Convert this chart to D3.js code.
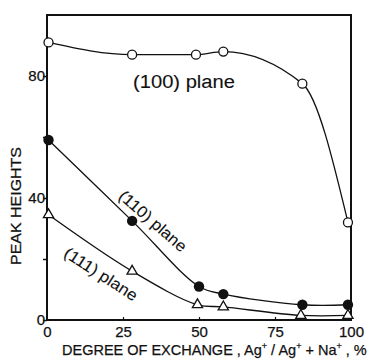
<!DOCTYPE html>
<html><head><meta charset="utf-8">
<script src="https://cdn.jsdelivr.net/npm/d3@7"></script>
<style>
html,body{margin:0;padding:0;background:#fff;}
svg{display:block;}
text{font-family:"Liberation Sans",Arial,sans-serif;fill:#111;stroke:#111;stroke-width:0.25px;}
</style></head>
<body>
<svg id="c" width="373" height="363"></svg>
<script>
// ---- data ----
const xPlane100 = [0.5, 28, 49, 58, 84, 99];
const yPlane100 = [91, 87, 87, 88, 77.5, 32];
const xPlane110 = [0.5, 28, 50, 58, 84, 99];
const yPlane110 = [59, 32.5, 11, 8.5, 5, 5];
const xPlane111 = [0.5, 28, 49.5, 58, 83.5, 99];
const yPlane111 = [34.5, 16, 5, 4.3, 1.5, 1.5];
const xTicks = [0, 25, 50, 75, 100];
const yTicksLabeled = [0, 40, 80];
const yTicksAll = [0, 20, 40, 60, 80];
const seriesLabels = ["(100) plane", "(110) plane", "(111) plane"];
const xTitleParts = ["DEGREE OF EXCHANGE , Ag", "+", " / Ag", "+", " + Na", "+", " , %"];
const yTitle = "PEAK HEIGHTS";

const svg = d3.select("#c");
const L = 47, R = 351, T = 15, B = 320;
const x = d3.scaleLinear().domain([0, 100]).range([L, R]);
const y = d3.scaleLinear().domain([0, 100]).range([B, T]);

// frame
svg.append("rect").attr("x", L).attr("y", T).attr("width", R - L).attr("height", B - T)
  .attr("fill", "none").attr("stroke", "#111").attr("stroke-width", 2);

// y axis
const yAxis = d3.axisLeft(y).tickValues(yTicksAll).tickSize(4)
  .tickFormat(d => yTicksLabeled.includes(d) ? d : "");
const gy = svg.append("g").attr("transform", `translate(${L},0)`).call(yAxis);
gy.select(".domain").remove();
gy.selectAll("line").attr("stroke", "#111").attr("stroke-width", 1.5);
gy.selectAll("text").attr("x", -2).style("font-size", "15px").style("font-family", "Liberation Sans, Arial, sans-serif").attr("fill", "#111");

// x axis
const xAxis = d3.axisBottom(x).tickValues(xTicks).tickSize(-3).tickFormat(d => d);
const gx = svg.append("g").attr("transform", `translate(0,${B})`).call(xAxis);
gx.select(".domain").remove();
gx.selectAll("line").attr("stroke", "#111").attr("stroke-width", 1.2)
  .filter(d => d === 0 || d === 100).remove();
gx.selectAll("text").attr("y", 6).style("font-size", "15px").style("font-family", "Liberation Sans, Arial, sans-serif").attr("fill", "#111");

// curves
const lineMono = d3.line().x(d => x(d[0])).y(d => y(d[1])).curve(d3.curveMonotoneX);
const lineCR = d3.line().x(d => x(d[0])).y(d => y(d[1])).curve(d3.curveCatmullRom.alpha(0.5));
function pts(xs, ys) { return xs.map((v, i) => [v, ys[i]]); }
const s100 = pts(xPlane100, yPlane100), s110 = pts(xPlane110, yPlane110), s111 = pts(xPlane111, yPlane111);
svg.append("path").attr("d", lineMono(s100)).attr("fill", "none").attr("stroke", "#111").attr("stroke-width", 1.3);
[s110, s111].forEach(s => {
  svg.append("path").attr("d", lineCR(s)).attr("fill", "none").attr("stroke", "#111").attr("stroke-width", 1.3);
});

// markers
svg.selectAll("circle.o").data(s100).enter().append("circle")
  .attr("cx", d => x(d[0])).attr("cy", d => y(d[1])).attr("r", 4.5)
  .attr("fill", "#fff").attr("stroke", "#111").attr("stroke-width", 1.3);
svg.selectAll("circle.f").data(s110).enter().append("circle")
  .attr("cx", d => x(d[0])).attr("cy", d => y(d[1])).attr("r", 5.2)
  .attr("fill", "#111");
const tri = d3.symbol().type(d3.symbolTriangle).size(45);
svg.selectAll("path.t").data(s111).enter().append("path")
  .attr("d", tri).attr("transform", d => `translate(${x(d[0])},${y(d[1])})`)
  .attr("fill", "#fff").attr("stroke", "#111").attr("stroke-width", 1.3);

// series labels
svg.append("text").attr("x", 133).attr("y", 88).attr("textLength", 102).attr("lengthAdjust", "spacingAndGlyphs")
  .style("font-size", "18px").style("stroke-width", "0.1px").text(seriesLabels[0]);
svg.append("text").attr("transform", "translate(153,221) rotate(41)").attr("text-anchor", "middle")
  .attr("dy", "0.35em").attr("textLength", 84).attr("lengthAdjust", "spacingAndGlyphs")
  .style("font-size", "16px").style("stroke-width", "0.1px").text(seriesLabels[1]);
svg.append("text").attr("transform", "translate(101,274) rotate(33)").attr("text-anchor", "middle")
  .attr("dy", "0.35em").attr("textLength", 84).attr("lengthAdjust", "spacingAndGlyphs")
  .style("font-size", "16px").style("stroke-width", "0.1px").text(seriesLabels[2]);

// axis titles
svg.append("text").attr("transform", "translate(21,206) rotate(-90)").attr("text-anchor", "middle")
  .attr("textLength", 118).attr("lengthAdjust", "spacingAndGlyphs")
  .style("font-size", "15px").text(yTitle);

const xt = svg.append("text").attr("x", 62).attr("y", 355).style("font-size", "14.5px");
xTitleParts.forEach((p, i) => {
  const sup = p === "+" && i % 2 === 1;
  xt.append("tspan").attr("dy", sup ? -6 : (i > 0 ? 6 : 0))
    .style("font-size", sup ? "9px" : null).text(p);
});
</script>
</body></html>
